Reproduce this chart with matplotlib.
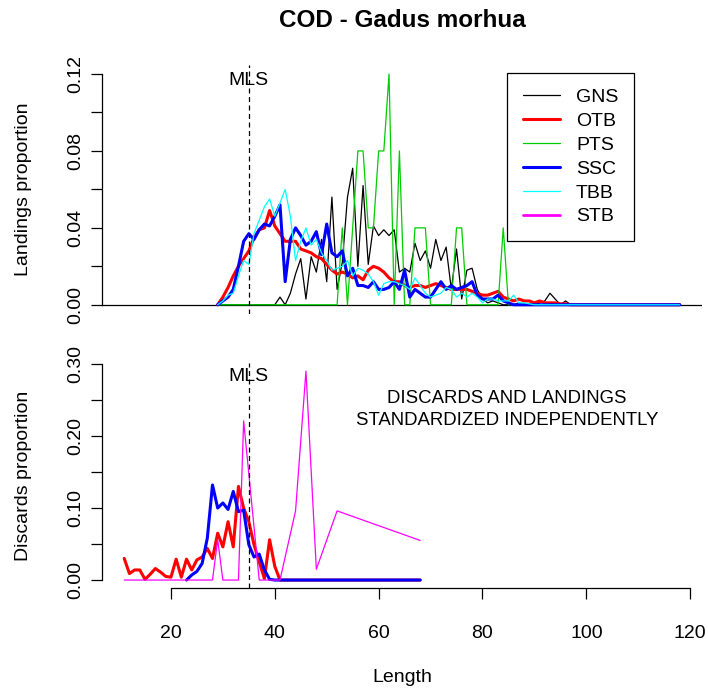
import numpy as np
import matplotlib
matplotlib.use("Agg")
import matplotlib.pyplot as plt

plt.rcParams['font.family'] = ['Liberation Sans', 'DejaVu Sans']

# ---------------- data ----------------
top_len = np.arange(29, 119)

gns_land = [0.000, 0.000, 0.000, 0.000, 0.000, 0.000, 0.000, 0.000, 0.000, 0.000,
            0.000, 0.000, 0.004, 0.000, 0.006, 0.016, 0.024, 0.003, 0.025, 0.017,
            0.034, 0.012, 0.056, 0.008, 0.022, 0.056, 0.071, 0.020, 0.062, 0.021,
            0.041, 0.036, 0.039, 0.036, 0.039, 0.017, 0.019, 0.017, 0.032, 0.023,
            0.028, 0.019, 0.034, 0.023, 0.030, 0.008, 0.029, 0.003, 0.018, 0.019,
            0.008, 0.003, 0.001, 0.002, 0.001, 0.000, 0.000, 0.000, 0.001, 0.000,
            0.000, 0.000, 0.001, 0.002, 0.006, 0.003, 0.000, 0.002, 0.000, 0.000,
            0.000, 0.000, 0.000, 0.000, 0.000, 0.000, 0.000, 0.000, 0.000, 0.000,
            0.000, 0.000, 0.000, 0.000, 0.000, 0.000, 0.000, 0.000, 0.000, 0.000]

otb_land = [0.000, 0.004, 0.009, 0.015, 0.020, 0.024, 0.028, 0.035, 0.039, 0.040,
            0.049, 0.041, 0.037, 0.033, 0.033, 0.033, 0.029, 0.028, 0.027, 0.025,
            0.024, 0.021, 0.018, 0.016, 0.017, 0.016, 0.014, 0.015, 0.013, 0.018,
            0.020, 0.019, 0.017, 0.014, 0.012, 0.012, 0.010, 0.009, 0.010, 0.010,
            0.009, 0.010, 0.011, 0.010, 0.009, 0.008, 0.008, 0.008, 0.008, 0.007,
            0.006, 0.005, 0.005, 0.006, 0.007, 0.004, 0.003, 0.002, 0.003, 0.002,
            0.002, 0.001, 0.002, 0.001, 0.001, 0.001, 0.0005, 0.0005, 0.000, 0.000,
            0.000, 0.000, 0.000, 0.000, 0.000, 0.000, 0.000, 0.000, 0.000, 0.000,
            0.000, 0.000, 0.000, 0.000, 0.000, 0.000, 0.000, 0.000, 0.000, 0.000]

pts_land = [0.00, 0.00, 0.00, 0.00, 0.00, 0.00, 0.00, 0.00, 0.00, 0.00,
            0.00, 0.00, 0.00, 0.00, 0.00, 0.00, 0.00, 0.00, 0.00, 0.00,
            0.00, 0.00, 0.00, 0.00, 0.04, 0.00, 0.04, 0.08, 0.08, 0.04,
            0.04, 0.08, 0.08, 0.12, 0.00, 0.08, 0.00, 0.00, 0.04, 0.04,
            0.04, 0.00, 0.00, 0.00, 0.00, 0.00, 0.04, 0.04, 0.00, 0.00,
            0.00, 0.00, 0.00, 0.00, 0.00, 0.04, 0.00, 0.00, 0.00, 0.00,
            0.00, 0.00, 0.00, 0.00, 0.00, 0.00, 0.00, 0.00, 0.00, 0.00,
            0.00, 0.00, 0.00, 0.00, 0.00, 0.00, 0.00, 0.00, 0.00, 0.00,
            0.00, 0.00, 0.00, 0.00, 0.00, 0.00, 0.00, 0.00, 0.00, 0.00]

ssc_land = [0.000, 0.002, 0.004, 0.008, 0.020, 0.033, 0.037, 0.034, 0.039, 0.042,
            0.041, 0.046, 0.052, 0.012, 0.034, 0.040, 0.036, 0.031, 0.033, 0.038,
            0.026, 0.042, 0.027, 0.025, 0.028, 0.015, 0.019, 0.010, 0.010, 0.009,
            0.012, 0.008, 0.008, 0.009, 0.012, 0.008, 0.018, 0.004, 0.008, 0.006,
            0.004, 0.004, 0.008, 0.012, 0.008, 0.010, 0.008, 0.009, 0.010, 0.012,
            0.005, 0.003, 0.003, 0.003, 0.005, 0.002, 0.001, 0.000, 0.000, 0.000,
            0.000, 0.000, 0.000, 0.000, 0.000, 0.000, 0.000, 0.000, 0.000, 0.000,
            0.000, 0.000, 0.000, 0.000, 0.000, 0.000, 0.000, 0.000, 0.000, 0.000,
            0.000, 0.000, 0.000, 0.000, 0.000, 0.000, 0.000, 0.000, 0.000, 0.000]

tbb_land = [0.000, 0.002, 0.005, 0.006, 0.015, 0.023, 0.021, 0.037, 0.044, 0.051,
            0.055, 0.046, 0.053, 0.060, 0.046, 0.023, 0.033, 0.040, 0.031, 0.034,
            0.027, 0.023, 0.018, 0.019, 0.020, 0.023, 0.015, 0.019, 0.018, 0.016,
            0.012, 0.005, 0.011, 0.012, 0.012, 0.011, 0.010, 0.008, 0.014, 0.010,
            0.006, 0.004, 0.005, 0.006, 0.009, 0.008, 0.004, 0.006, 0.004, 0.006,
            0.004, 0.001, 0.003, 0.003, 0.002, 0.002, 0.002, 0.005, 0.001, 0.001,
            0.0005, 0.000, 0.000, 0.000, 0.000, 0.000, 0.000, 0.000, 0.000, 0.000,
            0.000, 0.000, 0.000, 0.000, 0.000, 0.000, 0.000, 0.000, 0.000, 0.000,
            0.000, 0.000, 0.000, 0.000, 0.000, 0.000, 0.000, 0.000, 0.000, 0.000]

otb_len_d = np.arange(11, 69)
otb_disc = [0.030, 0.009, 0.014, 0.014, 0.001, 0.008, 0.016, 0.011, 0.005, 0.004,
            0.029, 0.004, 0.029, 0.014, 0.028, 0.032, 0.044, 0.030, 0.065, 0.046,
            0.081, 0.046, 0.130, 0.100, 0.081, 0.049, 0.025, 0.002, 0.056, 0.019,
            0.000, 0.000, 0.000, 0.000, 0.000, 0.000, 0.000, 0.000, 0.000, 0.000,
            0.000, 0.000, 0.000, 0.000, 0.000, 0.000, 0.000, 0.000, 0.000, 0.000,
            0.000, 0.000, 0.000, 0.000, 0.000, 0.000, 0.000, 0.000]

ssc_len_d = np.arange(23, 69)
ssc_disc = [0.000, 0.007, 0.012, 0.023, 0.058, 0.132, 0.100, 0.107,
            0.098, 0.123, 0.095, 0.097, 0.049, 0.032, 0.036, 0.014, 0.001, 0.000,
            0.000, 0.000, 0.000, 0.000, 0.000, 0.000, 0.000, 0.000, 0.000, 0.000,
            0.000, 0.000, 0.000, 0.000, 0.000, 0.000, 0.000, 0.000, 0.000, 0.000,
            0.000, 0.000, 0.000, 0.000, 0.000, 0.000, 0.000, 0.000]

stb_len_d = [11, 28, 29, 30, 33, 34, 37, 41, 44, 46, 48, 52, 68]
stb_disc = [0.000, 0.000, 0.056, 0.000, 0.000, 0.221, 0.000, 0.000, 0.096, 0.290, 0.015, 0.096, 0.055]

gear_names = ['GNS', 'OTB', 'PTS', 'SSC', 'TBB', 'STB']
gear_colors = ['black', '#FF0000', '#00CD00', '#0000FF', '#00FFFF', '#FF00FF']
gear_lw = [0.9, 2.2, 0.9, 2.2, 0.9, 0.9]

mls = 35
x_ticks = [20, 40, 60, 80, 100, 120]
top_yticks = [0.00, 0.02, 0.04, 0.06, 0.08, 0.10, 0.12]
top_ylabels = ['0.00', '', '0.04', '', '0.08', '', '0.12']
bot_yticks = [0.00, 0.05, 0.10, 0.15, 0.20, 0.25, 0.30]
bot_ylabels = ['0.00', '', '0.10', '', '0.20', '', '0.30']

# ---------------- figure ----------------
W, H = 708, 689
fig = plt.figure(figsize=(W / 100, H / 100), dpi=100)
ax1 = fig.add_axes([102 / W, 1 - 314 / H, 600 / W, (314 - 64.8) / H])
ax2 = fig.add_axes([102 / W, 1 - 588.4 / H, 600 / W, (588.4 - 362.8) / H])

FS = 14
xlim = (6.72, 122.28)
kw = dict(solid_capstyle='round', solid_joinstyle='round')

# top panel
ax1.axhline(0, color='black', lw=0.9, zorder=1)
handles = []
for vals, name, c, lw in zip([gns_land, otb_land, pts_land, ssc_land, tbb_land],
                             gear_names[:5], gear_colors[:5], gear_lw[:5]):
    h, = ax1.plot(top_len, vals, color=c, lw=lw, label=name, **kw)
    handles.append(h)

# bottom panel
ax2.plot(otb_len_d, otb_disc, color=gear_colors[1], lw=gear_lw[1], **kw)
ax2.plot(ssc_len_d, ssc_disc, color=gear_colors[3], lw=gear_lw[3], **kw)
h_stb, = ax2.plot(stb_len_d, stb_disc, color=gear_colors[5], lw=gear_lw[5], label='STB', **kw)
handles.append(h_stb)

for ax in (ax1, ax2):
    ax.axvline(mls, color='black', lw=0.9, ls=(0, (4, 2.8)))
    ax.set_xlim(*xlim)
    for s in ('top', 'right'):
        ax.spines[s].set_visible(False)
    ax.spines['left'].set_linewidth(0.9)
    ax.tick_params(axis='y', length=8, width=0.9, pad=4.6, labelsize=FS, labelrotation=90)

ax1.set_ylim(-0.0048, 0.1248)
ax1.spines['bottom'].set_visible(False)
ax1.set_xticks([])
ax1.set_yticks(top_yticks)
ax1.set_yticklabels(top_ylabels, rotation=90, va='center')
ax1.spines['left'].set_bounds(0, 0.12)

ax2.set_ylim(-0.0116, 0.3016)
ax2.set_yticks(bot_yticks)
ax2.set_yticklabels(bot_ylabels, rotation=90, va='center')
ax2.spines['left'].set_bounds(0, 0.30)
ax2.set_xticks(x_ticks)
ax2.set_xticklabels([str(t) for t in x_ticks])
ax2.spines['bottom'].set_bounds(20, 120)
ax2.spines['bottom'].set_linewidth(0.9)
ax2.tick_params(axis='x', length=8, width=0.9, pad=18, labelsize=FS)

# MLS labels
ax1.text(mls, 0.1143, 'MLS', ha='center', va='baseline', fontsize=FS)
ax2.text(mls, 0.2768, 'MLS', ha='center', va='baseline', fontsize=FS)

# annotation
ax2.text(84.7, 0.2454, 'DISCARDS AND LANDINGS', ha='center', va='baseline', fontsize=FS * 0.96)
ax2.text(84.7, 0.2153, 'STANDARDIZED INDEPENDENTLY', ha='center', va='baseline', fontsize=FS * 0.96)

# legend
leg = ax1.legend(handles=handles, labels=gear_names, loc='upper left',
                 bbox_to_anchor=(507 / W, 1 - 73 / H), bbox_transform=fig.transFigure,
                 borderaxespad=0, fontsize=FS, handlelength=1.9, handletextpad=0.85,
                 borderpad=0.8, labelspacing=0.32, fancybox=False, framealpha=1,
                 edgecolor='black')
leg.get_frame().set_linewidth(0.9)
for lh in leg.get_lines():
    if lh.get_color() == '#FF00FF':
        lh.set_linewidth(2.0)

# titles / labels
fig.text(402 / W, 1 - 27 / H, 'COD - Gadus morhua', ha='center', va='baseline',
         fontsize=17.5, fontweight='bold')
fig.text(24 / W, 1 - 189.4 / H, 'Landings proportion', rotation=90, ha='center', va='center', fontsize=FS)
fig.text(24 / W, 1 - 475.6 / H, 'Discards proportion', rotation=90, ha='center', va='center', fontsize=FS)
fig.text(402 / W, 1 - 677 / H, 'Length', ha='center', va='center', fontsize=FS)

fig.savefig('out.png', dpi=100)
